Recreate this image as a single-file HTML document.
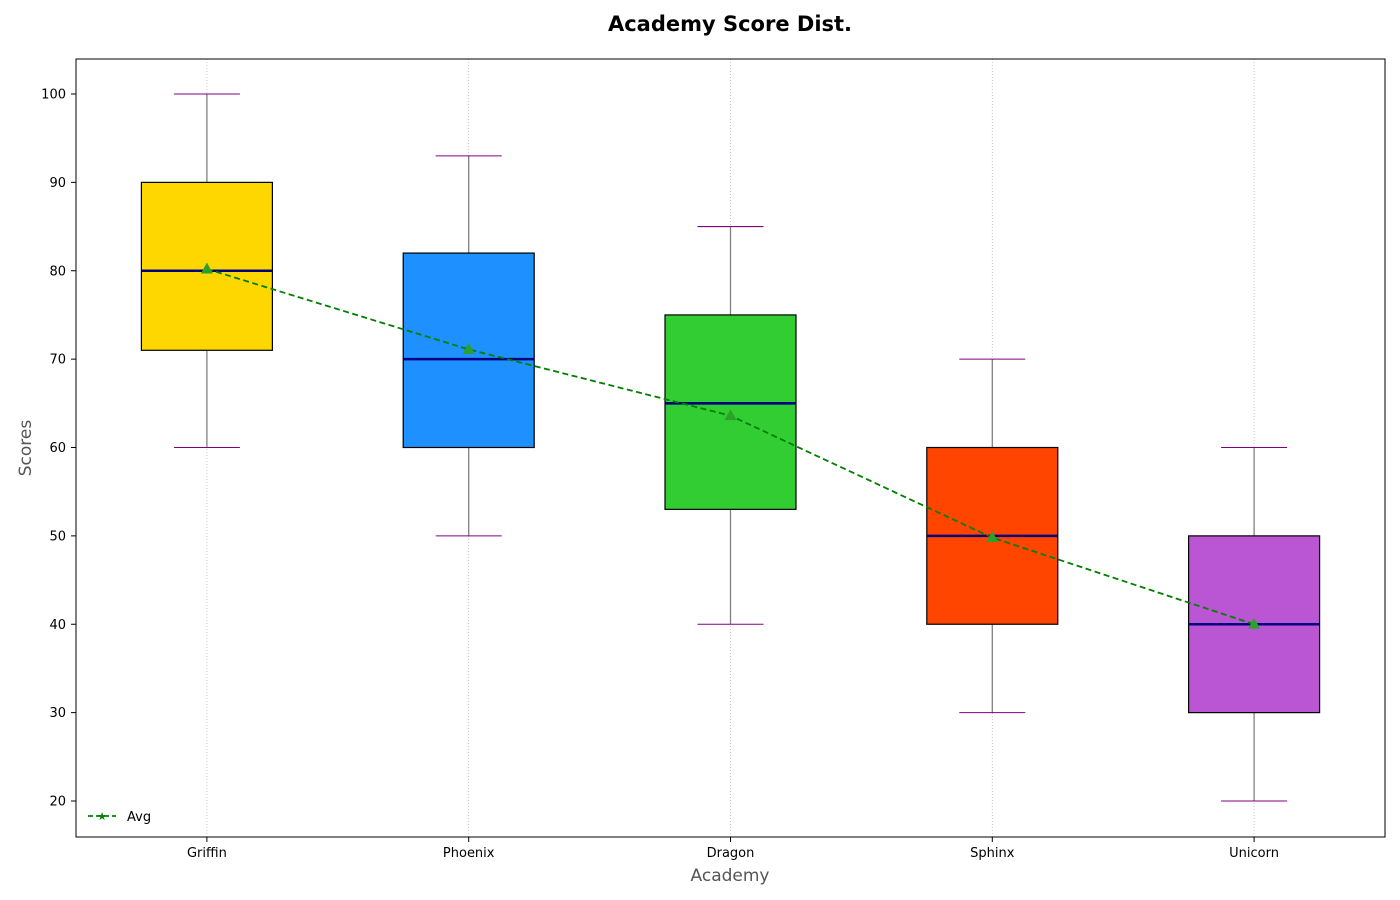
<!DOCTYPE html>
<html><head><meta charset="utf-8"><style>
body{margin:0;background:#fff;font-family:"Liberation Sans","DejaVu Sans",sans-serif}
svg{display:block}
</style></head><body>
<svg id="chart" width="1400" height="900" font-family="DejaVu Sans, Liberation Sans, sans-serif">
<rect width="1400" height="900" fill="#fff"/>
<text x="730" y="31" text-anchor="middle" font-size="21" font-weight="bold">Academy Score Dist.</text>
<g id="grid"></g><g id="boxes"></g><g id="avg"></g><g id="axes"></g>
<rect x="76" y="59" width="1309" height="778" fill="none" stroke="#000" stroke-width="1"/>
<text x="730" y="881" text-anchor="middle" font-size="17" fill="#555">Academy</text>
<text transform="translate(31,448) rotate(-90)" text-anchor="middle" font-size="17" fill="#555">Scores</text>
<g>
<line x1="88" y1="816" x2="116" y2="816" stroke="green" stroke-width="1.8" stroke-dasharray="5,3"/>
<text x="102" y="820" text-anchor="middle" font-size="11" fill="green">★</text>
<text x="127" y="821" font-size="13">Avg</text>
</g>
</svg>
<script>
const categories=["Griffin","Phoenix","Dragon","Sphinx","Unicorn"];
const mins=[60,50,40,30,20];
const q1s=[71,60,53,40,30];
const medians=[80,70,65,50,40];
const q3s=[90,82,75,60,50];
const maxs=[100,93,85,70,60];
const means=[80.2,71.1,63.6,49.8,40];
const colors=["#FFD700","#1E90FF","#32CD32","#FF4500","#BA55D3"];
const yTicks=[20,30,40,50,60,70,80,90,100];
const NS="http://www.w3.org/2000/svg";
const X=i=>76+(i+0.5)*1309/5;
const Y=v=>801-(v-20)*(707/80);
function mk(p,t,a){const e=document.createElementNS(NS,t);for(const k in a)e.setAttribute(k,a[k]);p.appendChild(e);return e;}
const grid=document.getElementById('grid'),boxes=document.getElementById('boxes'),avg=document.getElementById('avg'),axes=document.getElementById('axes');
yTicks.forEach(v=>{
 const t=mk(axes,'line',{x1:71,x2:76,y1:Y(v),y2:Y(v),stroke:'#000'});
 
 
 const l=mk(axes,'text',{x:66,y:Y(v)+4.5,'text-anchor':'end','font-size':13});
 l.textContent=v;
 
 
});
categories.forEach((c,i)=>{
 const x=X(i),w=65.5,cw=33;
 const g=mk(grid,'line',{x1:x,x2:x,y1:59,y2:837,stroke:'#bbb','stroke-dasharray':'1,2','stroke-width':0.8});
 
 
 const b=mk(boxes,'g',{});
 
 
 mk(b,'line',{x1:x,x2:x,y1:Y(q3s[i]),y2:Y(maxs[i]),stroke:'#808080','stroke-width':1.3});
 mk(b,'line',{x1:x,x2:x,y1:Y(q1s[i]),y2:Y(mins[i]),stroke:'#808080','stroke-width':1.3});
 mk(b,'line',{x1:x-cw,x2:x+cw,y1:Y(maxs[i]),y2:Y(maxs[i]),stroke:'#800080','stroke-width':1.1});
 mk(b,'line',{x1:x-cw,x2:x+cw,y1:Y(mins[i]),y2:Y(mins[i]),stroke:'#800080','stroke-width':1.1});
 mk(b,'rect',{x:x-w,y:Y(q3s[i]),width:2*w,height:Y(q1s[i])-Y(q3s[i]),fill:colors[i],stroke:'#000','stroke-width':1.2});
 mk(b,'line',{x1:x-w,x2:x+w,y1:Y(medians[i]),y2:Y(medians[i]),stroke:'#000080','stroke-width':2.6});
 const t=mk(axes,'line',{x1:x,x2:x,y1:837,y2:842,stroke:'#000'});
 
 
 const l=mk(axes,'text',{x:x,y:857,'text-anchor':'middle','font-size':13});
 l.textContent=c;
 
 
});
const pl=mk(avg,'polyline',{points:means.map((m,i)=>X(i)+','+Y(m)).join(' '),fill:'none',stroke:'green','stroke-width':1.8,'stroke-dasharray':'6,3.5'});


means.forEach((m,i)=>{
 const x=X(i),y=Y(m);
 const p=mk(avg,'polygon',{points:`${x},${y-6.5} ${x-6},${y+4.5} ${x+6},${y+4.5}`,fill:'#2ca02c'});
 
 
});
</script>
</body></html>
